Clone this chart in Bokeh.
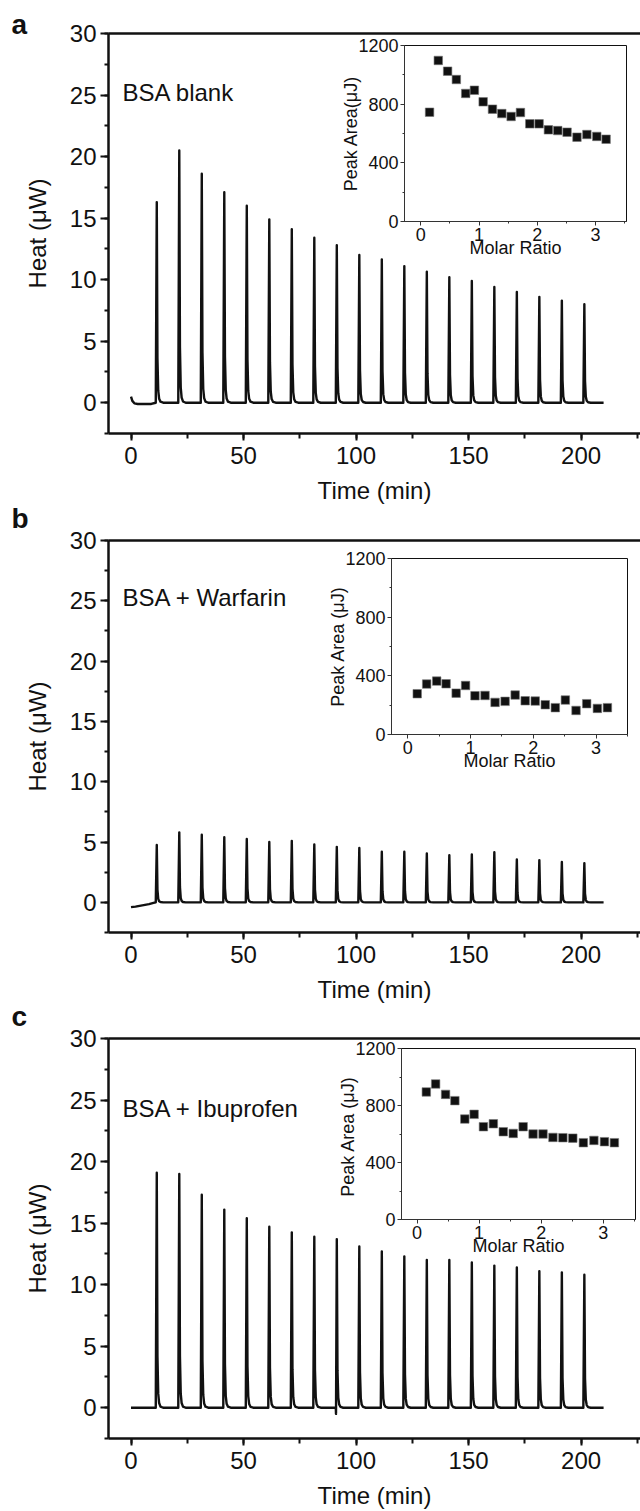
from bokeh.plotting import figure
from bokeh.models import Range1d, Label, SingleIntervalTicker, LinearAxis, FixedTicker
from bokeh.embed import file_html
from bokeh.resources import INLINE

FONT = "Liberation Sans"
INK = "#111111"

# ---------------- data ----------------
peak_times = [11.3, 21.3, 31.3, 41.3, 51.3, 61.3, 71.3, 81.3, 91.3, 101.3,
              111.3, 121.3, 131.3, 141.3, 151.3, 161.3, 171.3, 181.3, 191.3, 201.3]
heights_a = [16.3, 20.5, 18.6, 17.1, 16.0, 14.9, 14.1, 13.4, 12.8, 12.0,
             11.65, 11.1, 10.65, 10.2, 9.9, 9.4, 9.0, 8.6, 8.3, 8.0]
heights_b = [4.75, 5.8, 5.6, 5.4, 5.25, 5.0, 5.1, 4.8, 4.6, 4.5,
             4.2, 4.2, 4.05, 3.9, 3.97, 4.15, 3.55, 3.5, 3.35, 3.25]
heights_c = [19.1, 19.0, 17.3, 16.1, 15.4, 14.7, 14.25, 13.9, 13.7, 13.1,
             12.7, 12.3, 12.0, 12.0, 11.8, 11.55, 11.4, 11.1, 11.0, 10.8]

# baseline before the first injection, a dip, and the end of the run
pre_t_a = [0.0, 0.6, 1.5, 3.0, 6.0, 9.0]
pre_y_a = [0.5, 0.15, -0.05, -0.1, -0.1, -0.1]
pre_t_b = [0.0, 2.0, 5.0, 8.0, 10.0]
pre_y_b = [-0.4, -0.35, -0.25, -0.15, -0.05]
pre_t_c = [0.0, 5.0, 10.0]
pre_y_c = [0.0, 0.0, 0.0]
dip_t_c = [91.1]
dip_y_c = [-0.5]
end_t = [210.0]
end_y = [0.0]

# injection peak shape (offset in min, fraction of peak height)
shape_dt = [-0.3, 0.15, 0.45, 0.8, 1.2, 1.8, 3.0]
shape_fr = [0.0, 1.0, 0.22, 0.06, 0.02, 0.005, 0.0]

molar_ratio = [0.15, 0.30, 0.46, 0.61, 0.77, 0.92, 1.07, 1.23, 1.39, 1.55,
               1.71, 1.87, 2.03, 2.19, 2.35, 2.51, 2.68, 2.85, 3.02, 3.18]
area_a = [745, 1098, 1025, 968, 873, 895, 816, 766, 736, 716,
          743, 666, 666, 625, 620, 609, 575, 593, 580, 561]
area_b = [278, 344, 364, 346, 282, 334, 264, 266, 219, 226,
          269, 230, 228, 203, 183, 235, 164, 210, 178, 183]
area_c = [895, 951, 878, 834, 705, 738, 651, 672, 616, 604,
          651, 600, 600, 576, 574, 571, 539, 555, 546, 539]

labels = ["BSA blank", "BSA + Warfarin", "BSA + Ibuprofen"]
letters = ["a", "b", "c"]
inset_ylabels = ["Peak Area(\u03bcJ)", "Peak Area (\u03bcJ)", "Peak Area  (\u03bcJ)"]


def build_trace(pre_t, pre_y, heights, extra_t=(), extra_y=()):
    pts = list(zip(pre_t, pre_y))
    for t, h in zip(peak_times, heights):
        for dt, fr in zip(shape_dt, shape_fr):
            pts.append((t + dt, h * fr))
    pts += list(zip(extra_t, extra_y))
    pts += list(zip(end_t, end_y))
    pts.sort(key=lambda q: q[0])
    return [q[0] for q in pts], [q[1] for q in pts]


def main_panel(height, b_top, frame_h, xs, ys, label, label_y):
    p = figure(width=640, height=height, x_range=Range1d(-10, 226.4),
               y_range=Range1d(-2.5, 30), output_backend="svg",
               toolbar_location=None, min_border_left=108, min_border_right=0,
               min_border_top=b_top, min_border_bottom=height - b_top - frame_h)
    p.xgrid.visible = False
    p.ygrid.visible = False
    p.outline_line_color = None
    p.xaxis.ticker = SingleIntervalTicker(interval=50, num_minor_ticks=2)
    p.yaxis.ticker = SingleIntervalTicker(interval=5, num_minor_ticks=2)
    for ax in (p.xaxis[0], p.yaxis[0]):
        ax.axis_line_width = 2.5
        ax.axis_line_color = INK
        ax.major_tick_line_width = 2
        ax.minor_tick_line_width = 2
        ax.major_tick_line_color = INK
        ax.minor_tick_line_color = INK
        ax.major_tick_in = 0
        ax.minor_tick_in = 0
        ax.major_label_text_font = FONT
        ax.major_label_text_font_size = "24px"
        ax.major_label_text_color = INK
        ax.axis_label_text_font = FONT
        ax.axis_label_text_font_size = "24px"
        ax.axis_label_text_font_style = "normal"
        ax.axis_label_text_color = INK
    p.xaxis.major_tick_out = 7
    p.xaxis.minor_tick_out = 5
    p.yaxis.major_tick_out = 8
    p.yaxis.minor_tick_out = 4
    p.xaxis.major_label_standoff = 6
    p.yaxis.major_label_standoff = 4
    p.xaxis.axis_label = "Time (min)"
    p.yaxis.axis_label = "Heat (\u03bcW)"
    p.xaxis.axis_label_standoff = 10
    p.yaxis.axis_label_standoff = 16
    # top frame line only (the right edge of the frame lies outside the picture)
    top = LinearAxis(ticker=FixedTicker(ticks=[]), axis_line_width=2.5,
                     axis_line_color=INK, major_tick_out=0, minor_tick_out=0,
                     major_label_text_font_size="0px")
    p.add_layout(top, "above")
    p.line(xs, ys, line_color=INK, line_width=2.4, line_join="round")
    p.add_layout(Label(x=-3.8, y=label_y, text=label, text_font=FONT,
                       text_baseline="alphabetic",
                       text_font_size="24px", text_color=INK))
    return p


def letter_panel(letter):
    # small transparent overlay; the letter sits on the bottom-left corner of its frame
    q = figure(width=60, height=60, x_range=Range1d(0, 1), y_range=Range1d(0, 1),
               output_backend="svg", toolbar_location=None,
               min_border_left=0, min_border_right=0, min_border_top=0,
               min_border_bottom=0, x_axis_type=None, y_axis_type=None,
               background_fill_color=None, border_fill_color=None,
               outline_line_color=None)
    q.add_layout(Label(x=0, y=0, x_offset=11, text=letter, text_font=FONT,
                       text_baseline="bottom", text_font_size="28px",
                       text_font_style="bold", text_color=INK))
    return q


def inset_panel(width, height, b_left, b_right, b_top, b_bottom, x0, x1, area, ylab):
    q = figure(width=width, height=height, x_range=Range1d(x0, x1),
               y_range=Range1d(0, 1200), output_backend="svg",
               toolbar_location=None, min_border_left=b_left,
               min_border_right=b_right,
               min_border_top=b_top, min_border_bottom=b_bottom,
               border_fill_color=None, background_fill_color="white")
    q.xgrid.visible = False
    q.ygrid.visible = False
    q.outline_line_color = INK
    q.outline_line_width = 1
    q.xaxis.ticker = SingleIntervalTicker(interval=1, num_minor_ticks=2)
    q.yaxis.ticker = SingleIntervalTicker(interval=400, num_minor_ticks=2)
    for ax in (q.xaxis[0], q.yaxis[0]):
        ax.axis_line_width = 1
        ax.axis_line_color = "#333333"
        ax.major_tick_line_color = "#333333"
        ax.minor_tick_line_color = "#333333"
        ax.major_tick_in = 0
        ax.minor_tick_in = 0
        ax.major_tick_out = 4
        ax.minor_tick_out = 2
        ax.major_label_text_font = FONT
        ax.major_label_text_font_size = "18px"
        ax.major_label_text_color = INK
        ax.axis_label_text_font = FONT
        ax.axis_label_text_font_size = "18px"
        ax.axis_label_text_font_style = "normal"
        ax.axis_label_text_color = INK
        ax.major_label_standoff = 2
    q.xaxis.axis_label = "Molar Ratio"
    q.yaxis.axis_label = ylab
    q.xaxis.axis_label_standoff = -6
    q.yaxis.axis_label_standoff = -6
    q.scatter(molar_ratio, area, marker="square", size=8.5, fill_color=INK,
              line_color="#777777", line_width=0.6)
    return q


xa, ya = build_trace(pre_t_a, pre_y_a, heights_a)
xb, yb = build_trace(pre_t_b, pre_y_b, heights_b)
xc, yc = build_trace(pre_t_c, pre_y_c, heights_c, dip_t_c, dip_y_c)

main_a = main_panel(508, 33, 400, xa, ya, labels[0], 25.2)
main_b = main_panel(497, 32, 402, xb, yb, labels[1], 25.3)
main_c = main_panel(506, 33, 402, xc, yc, labels[2], 24.3)

# insets: frame a 404-633 x 45-221, b 391-627 x 558-734, c 401-635 x 1048-1219
inset_a = inset_panel(316, 240, 87, 7, 12, 52, -0.28, 3.53, area_a, inset_ylabels[0])
inset_b = inset_panel(323, 240, 74, 13, 12, 52, -0.26, 3.50, area_b, inset_ylabels[1])
inset_c = inset_panel(326, 235, 87, 5, 12, 52, -0.25, 3.52, area_c, inset_ylabels[2])

let_a = letter_panel(letters[0])
let_b = letter_panel(letters[1])
let_c = letter_panel(letters[2])

# (element, page left, page top): independent roots placed absolutely on the page
placement = [
    (main_a, 0, 0), (let_a, 0, -21), (inset_a, 317, 33),
    (main_b, 0, 508), (let_b, 0, 473), (inset_b, 317, 546),
    (main_c, 0, 1005), (let_c, 0, 971), (inset_c, 314, 1036),
]
for el, left, top in placement:
    el.styles = {"position": "absolute", "left": f"{left}px", "top": f"{top}px"}

roots = [q[0] for q in placement]
open("out.html", "w").write(file_html(roots, INLINE))
